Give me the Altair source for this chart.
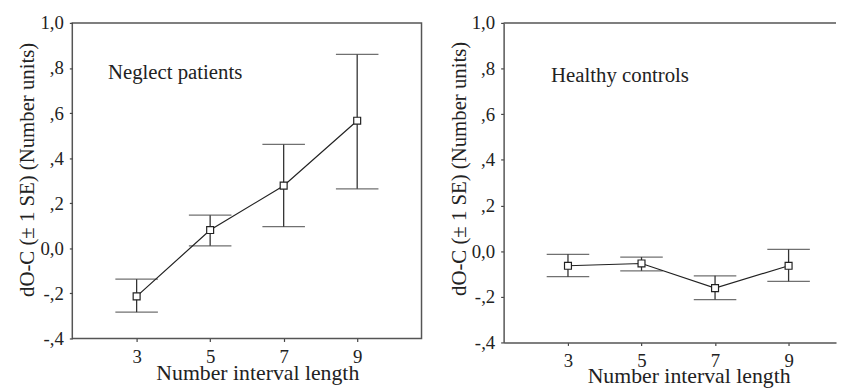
import altair as alt
import pandas as pd

intervals = [3, 5, 7, 9]

neglect_mean = [-0.213, 0.081, 0.278, 0.566]
neglect_upper = [-0.137, 0.147, 0.461, 0.860]
neglect_lower = [-0.283, 0.011, 0.096, 0.264]

healthy_mean = [-0.064, -0.054, -0.162, -0.064]
healthy_upper = [-0.014, -0.026, -0.108, 0.008]
healthy_lower = [-0.112, -0.086, -0.212, -0.132]

y_ticks = [-0.4, -0.2, 0.0, 0.2, 0.4, 0.6, 0.8, 1.0]
x_ticks = [3, 5, 7, 9]

FONT = "Liberation Serif"
LABEL_EXPR = ("datum.value == 0 ? '0,0' : datum.value == 1 ? '1,0' : "
              "(datum.value < 0 ? '-' : '') + ',' + round(abs(datum.value) * 10)")


def panel(mean, lo, hi, label, width, height, xdomain, left_frame, text_y, text_x, title_y):
    df = pd.DataFrame({"x": intervals, "mean": mean, "lo": lo, "hi": hi})
    base = alt.Chart(df)
    xenc = alt.X("x:Q", scale=alt.Scale(domain=xdomain, nice=False, zero=False),
                 axis=alt.Axis(values=x_ticks, title="Number interval length",
                               titleX=187, titleY=41, titleBaseline="alphabetic",
                               titleAlign="center",
                               domain=not left_frame, domainColor="#555", domainWidth=1.5,
                               grid=False))
    yenc = alt.Y("mean:Q", scale=alt.Scale(domain=[-0.4, 1.0], nice=False, zero=False),
                 axis=alt.Axis(values=y_ticks, labelExpr=LABEL_EXPR,
                               title="dO-C (\u00b1 1 SE) (Number units)",
                               titleY=title_y, titleAlign="center",
                               domain=not left_frame, domainColor="#555", domainWidth=1.5,
                               grid=False))
    rules = base.mark_rule(color="#333", strokeWidth=1.3).encode(
        x=xenc, y=alt.Y("lo:Q", scale=alt.Scale(domain=[-0.4, 1.0], nice=False, zero=False)),
        y2="hi:Q")
    cap_hi = base.mark_tick(color="#333", thickness=1.3, size=43, orient="horizontal").encode(
        x="x:Q", y="hi:Q")
    cap_lo = base.mark_tick(color="#333", thickness=1.3, size=43, orient="horizontal").encode(
        x="x:Q", y="lo:Q")
    line = base.mark_line(color="#222", strokeWidth=1.2).encode(x=xenc, y=yenc)
    pts = base.mark_point(shape="square", filled=True, fill="white", stroke="#222",
                          strokeWidth=1.2, size=49, opacity=1).encode(x="x:Q", y="mean:Q")
    txt = alt.Chart(pd.DataFrame({"t": [label]})).mark_text(
        font=FONT, fontSize=21, align="left", baseline="alphabetic", color="#222"
    ).encode(text="t:N", x=alt.value(text_x), y=alt.value(text_y))
    layers = [rules, cap_hi, cap_lo, line, pts, txt]
    if not left_frame:
        top = alt.Chart(pd.DataFrame({"a": [0]})).mark_rule(color="#555", strokeWidth=1.5).encode(
            x=alt.value(0), x2=alt.value(width), y=alt.value(0))
        layers.append(top)
    view = alt.ViewBackground(stroke="#555", strokeWidth=1.5) if left_frame else \
        alt.ViewBackground(stroke="transparent")
    return alt.layer(*layers).properties(width=width, height=height, view=view)


left = panel(neglect_mean, neglect_lower, neglect_upper, "Neglect patients",
             353, 319, [1.25, 10.75], True, 57, 36, 148).properties(
    title=alt.TitleParams(" ", fontSize=1, offset=4))
right = panel(healthy_mean, healthy_lower, healthy_upper, "Healthy controls",
              336, 323, [1.25, 10.29], False, 60, 48, 147)

chart = alt.hconcat(left, right, spacing=25).properties(
    padding={"left": 8, "top": -2, "right": 0, "bottom": 0}
).configure_axis(
    labelFont=FONT, labelFontSize=19, labelColor="#222", labelPadding=6,
    titleFont=FONT, titleFontSize=21, titleColor="#222", titleFontWeight="normal",
    titlePadding=2, tickSize=3, tickColor="#444", tickWidth=1.2
).configure_axisX(labelPadding=6, titleFontSize=22).configure_title(font=FONT)

chart.save("out.html", embed_options={"renderer": "svg", "actions": False})
